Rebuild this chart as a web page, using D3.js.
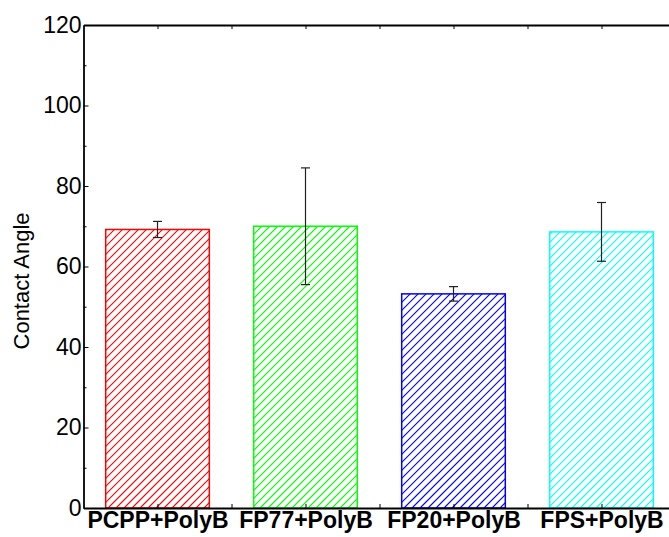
<!DOCTYPE html>
<html lang="en">
<head>
    <meta charset="UTF-8">
    <script src="https://d3js.org/d3.v7.min.js"></script>
    <title>Contact Angle</title>
    <style>
        body { margin: 0; background: #fff; }
        text { font-family: "Liberation Sans", Arial, sans-serif; }
    </style>
</head>
<body>
    <div id="container"></div>
    <script type="text/javascript">

        // data
        const categories = ["PCPP+PolyB", "FP77+PolyB", "FP20+PolyB", "FPS+PolyB"];
        const angles = [69.2, 70.0, 53.2, 68.6];
        const errors = [2.0, 14.5, 1.8, 7.3];
        const barColors = ["#ff0000", "#00ff00", "#0000ff", "#00ffff"];
        const yTicks = [0, 20, 40, 60, 80, 100, 120];
        const yMinorTicks = [10, 30, 50, 70, 90, 110];

        const w = 669, h = 537;
        const margin = { left: 83.5, top: 25, bottom: 29 };

        const svg = d3.select("#container")
            .append("svg")
            .attr("width", w)
            .attr("height", h)
            .style("display", "block");

        const xScale = d3.scaleLinear()
            .domain([0.5, categories.length + 0.5])
            .range([margin.left, margin.left + 148 * categories.length]);

        const yScale = d3.scaleLinear()
            .domain([0, 120])
            .range([h - margin.bottom, margin.top]);

        const barW = 0.7;
        const hatchStep = 8;

        // "/" hatch segments inside a box, lines x + y = c
        function hatchLines(x0, x1, y0, y1) {
            const segs = [];
            const start = Math.ceil((x0 + y0) / hatchStep) * hatchStep;
            for (let c = start; c <= x1 + y1; c += hatchStep) {
                const xa = Math.max(x0, c - y1);
                const xb = Math.min(x1, c - y0);
                if (xb > xa) segs.push([xa, c - xa, xb, c - xb]);
            }
            return segs;
        }

        const bars = svg.selectAll("g.bar")
            .data(angles)
            .enter()
            .append("g")
            .attr("class", "bar");

        bars.each(function (d, i) {
            const x0 = xScale(i + 1 - barW / 2);
            const x1 = xScale(i + 1 + barW / 2);
            const y0 = yScale(d);
            const y1 = yScale(0);
            const path = hatchLines(x0, x1, y0, y1)
                .map(s => "M" + s[0] + "," + s[1] + "L" + s[2] + "," + s[3])
                .join("");
            d3.select(this).append("path")
                .attr("d", path)
                .style("stroke", barColors[i])
                .style("stroke-width", 1.1)
                .style("fill", "none");
        });

        bars.append("rect")
            .attr("x", (d, i) => xScale(i + 1 - barW / 2))
            .attr("y", d => yScale(d))
            .attr("width", xScale(1 + barW) - xScale(1))
            .attr("height", d => yScale(0) - yScale(d))
            .attr("fill", "none")
            .attr("stroke", (d, i) => barColors[i])
            .attr("stroke-width", 1.5);

        // error bars
        const err = svg.selectAll("g.err")
            .data(angles)
            .enter()
            .append("g")
            .attr("class", "err")
            .attr("stroke", "#222")
            .attr("stroke-width", 1.2);

        err.append("line")
            .attr("x1", (d, i) => xScale(i + 1))
            .attr("x2", (d, i) => xScale(i + 1))
            .attr("y1", (d, i) => yScale(d - errors[i]))
            .attr("y2", (d, i) => yScale(d + errors[i]));
        err.append("line")
            .attr("x1", (d, i) => xScale(i + 1) - 4.5)
            .attr("x2", (d, i) => xScale(i + 1) + 4.5)
            .attr("y1", (d, i) => yScale(d + errors[i]))
            .attr("y2", (d, i) => yScale(d + errors[i]));
        err.append("line")
            .attr("x1", (d, i) => xScale(i + 1) - 4.5)
            .attr("x2", (d, i) => xScale(i + 1) + 4.5)
            .attr("y1", (d, i) => yScale(d - errors[i]))
            .attr("y2", (d, i) => yScale(d - errors[i]));

        // axes
        const halfTicks = d3.range(1, categories.length + 0.5, 0.5);

        const topAxis = d3.axisTop(xScale)
            .tickValues(halfTicks)
            .tickSizeInner(-4)
            .tickSizeOuter(0)
            .tickFormat("");

        svg.append("g")
            .attr("transform", "translate(0," + yScale(120) + ")")
            .call(topAxis);

        const bottomAxis = d3.axisBottom(xScale)
            .tickValues(halfTicks)
            .tickSizeInner(-4)
            .tickSizeOuter(0)
            .tickPadding(4)
            .tickFormat(d => Number.isInteger(d) ? categories[d - 1] : "");

        svg.append("g")
            .attr("id", "x-axis")
            .attr("transform", "translate(0," + yScale(0) + ")")
            .call(bottomAxis)
            .call(g => g.selectAll("text")
                .style("font-size", "23px")
                .style("font-weight", "bold")
                .attr("fill", "#000"));

        const leftAxis = d3.axisLeft(yScale)
            .tickValues(yTicks)
            .tickSizeInner(-5)
            .tickSizeOuter(0)
            .tickPadding(2);

        svg.append("g")
            .attr("id", "y-axis")
            .attr("transform", "translate(" + margin.left + ",0)")
            .call(leftAxis)
            .call(g => g.selectAll("text")
                .style("font-size", "23px")
                .attr("fill", "#000"));

        const leftMinor = d3.axisLeft(yScale)
            .tickValues(yMinorTicks)
            .tickSizeInner(-3)
            .tickSizeOuter(0)
            .tickFormat("");

        svg.append("g")
            .attr("transform", "translate(" + margin.left + ",0)")
            .call(leftMinor)
            .call(g => g.select(".domain").remove());

        svg.selectAll(".domain").attr("stroke-width", 1.8);

        // y label
        svg.append("text")
            .attr("transform", "translate(29,281) rotate(-90)")
            .attr("text-anchor", "middle")
            .style("font-size", "22px")
            .text("Contact Angle");

    </script>
</body>
</html>
